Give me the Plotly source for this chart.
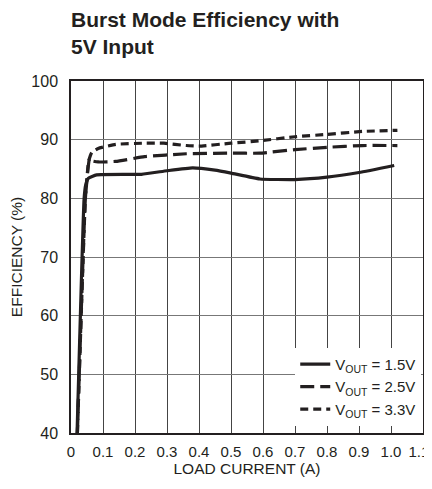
import plotly.graph_objects as go

# Load current (A) and efficiency (%) per output voltage
x_15 = [0.019, 0.041, 0.046, 0.054, 0.08, 0.22, 0.30, 0.38, 0.45, 0.50, 0.59, 0.70, 0.80, 0.90, 1.01]
y_15 = [40, 80, 82.3, 83.4, 84.0, 84.1, 84.7, 85.2, 84.8, 84.3, 83.3, 83.2, 83.6, 84.4, 85.6]

x_25 = [0.02, 0.045, 0.058, 0.065, 0.085, 0.14, 0.23, 0.36, 0.50, 0.59, 0.70, 0.80, 0.91, 1.02]
y_25 = [40, 80, 86.8, 86.4, 86.2, 86.3, 87.1, 87.6, 87.7, 87.7, 88.3, 88.7, 89.0, 89.0]

x_33 = [0.02, 0.045, 0.055, 0.065, 0.085, 0.14, 0.23, 0.29, 0.36, 0.40, 0.50, 0.59, 0.70, 0.80, 0.91, 1.02]
y_33 = [40, 80, 86.3, 87.8, 88.5, 89.2, 89.4, 89.4, 89.0, 88.9, 89.4, 89.8, 90.5, 90.9, 91.4, 91.6]

x_ticks = [0, 0.1, 0.2, 0.3, 0.4, 0.5, 0.6, 0.7, 0.8, 0.9, 1.0, 1.1]
x_tick_labels = ["0", "0.1", "0.2", "0.3", "0.4", "0.5", "0.6", "0.7", "0.8", "0.9", "1.0", "1.1\u00a0\u00a0"]
y_ticks = [40, 50, 60, 70, 80, 90, 100]

series_names = ["V<sub>OUT</sub> = 1.5V", "V<sub>OUT</sub> = 2.5V", "V<sub>OUT</sub> = 3.3V"]
title_text = "<b>Burst Mode Efficiency with<br>5V Input</b>"

FONT = "Liberation Sans, Arial, Helvetica, sans-serif"
INK = "#231f20"

fig = go.Figure()
fig.add_trace(go.Scatter(x=x_15, y=y_15, mode="lines", name=series_names[0],
                         line=dict(color=INK, width=3.2, shape="spline", smoothing=0.4)))
fig.add_trace(go.Scatter(x=x_25, y=y_25, mode="lines", name=series_names[1],
                         line=dict(color=INK, width=3.2, dash="14px,6px", shape="spline", smoothing=0.4)))
fig.add_trace(go.Scatter(x=x_33, y=y_33, mode="lines", name=series_names[2],
                         line=dict(color=INK, width=3.2, dash="8px,5px", shape="spline", smoothing=0.4)))

fig.add_annotation(text=title_text, xref="paper", yref="paper",
                   x=-0.006, y=1.213, xanchor="left", yanchor="top", align="left",
                   showarrow=False, font=dict(family=FONT, size=21, color=INK))

# page body has an 8px margin; size the figure so it fills the 432x489 window
fig.update_layout(
    width=424, height=481,
    margin=dict(l=63, r=9, t=73, b=56, autoexpand=False),
    paper_bgcolor="white", plot_bgcolor="white",
    font=dict(family=FONT, color=INK, size=16),
    showlegend=True,
    legend=dict(x=0.995, xanchor="right", y=0.242, yanchor="top",
                bgcolor="white", borderwidth=0,
                font=dict(family=FONT, size=15, color=INK),
                tracegroupgap=0, itemwidth=30),
)

fig.update_xaxes(range=[0, 1.1], tickmode="array", tickvals=x_ticks, ticktext=x_tick_labels,
                 showgrid=True, gridcolor="#444444", gridwidth=1,
                 showline=True, linecolor=INK, linewidth=1.5, mirror=True, automargin=False,
                 ticks="", zeroline=False, ticklabelstandoff=4, ticklabeloverflow="allow",
                 tickfont=dict(family=FONT, size=15, color=INK),
                 title=dict(text="LOAD CURRENT (A)", font=dict(family=FONT, size=15.5, color=INK), standoff=4))
fig.update_yaxes(range=[40, 100], tickmode="array", tickvals=y_ticks,
                 showgrid=True, gridcolor="#777777", gridwidth=1,
                 showline=True, linecolor=INK, linewidth=1.5, mirror=True, automargin=False,
                 ticks="", zeroline=False, ticklabelstandoff=8, ticklabeloverflow="allow",
                 tickfont=dict(family=FONT, size=16, color=INK),
                 title=dict(text="EFFICIENCY (%)", font=dict(family=FONT, size=15.5, color=INK), standoff=8))

fig.write_html("out.html")
